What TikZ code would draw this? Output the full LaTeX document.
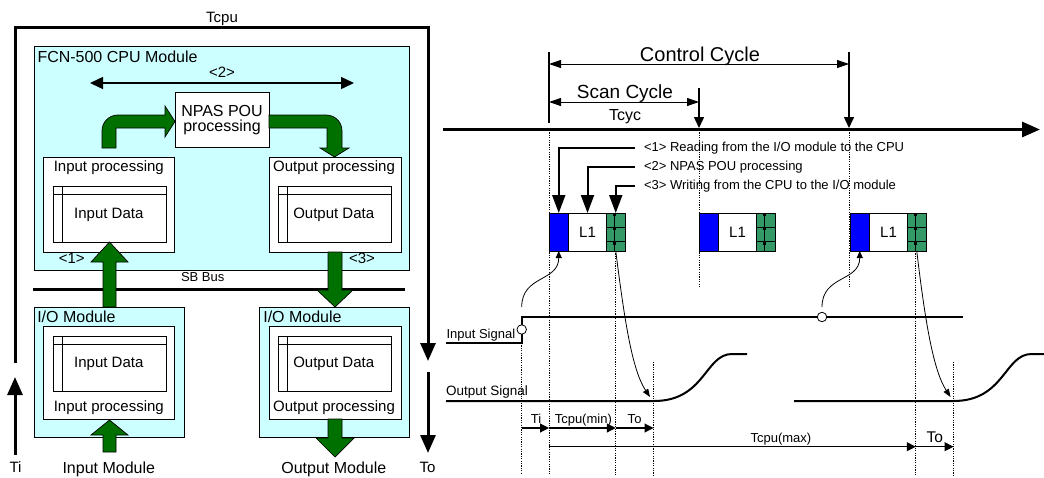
\documentclass[tikz,border=0pt]{standalone}
\usepackage{fontspec}
\setmainfont{Liberation Sans}
\usetikzlibrary{arrows.meta,calc}
\definecolor{lcyan}{HTML}{CCFFFF}
\definecolor{darkg}{HTML}{007000}
\definecolor{seag}{HTML}{339966}
\newcommand{\fsz}[1]{\fontsize{#1}{#1}\selectfont}
\tikzset{
  every node/.style={inner sep=0pt, outer sep=0pt},
  sz/.style 2 args={minimum width=#1pt, minimum height=#2pt},
  fs/.style={font=\fsz{#1}},
  cyanbox/.style={draw=black, fill=lcyan, line width=0.7pt, anchor=north west},
  whitebox/.style={draw=black, fill=white, line width=0.7pt, anchor=north west},
  tbl/.style={draw=black, line width=0.7pt, anchor=north west},
  garrow/.style={draw=black, fill=darkg, line width=0.7pt, line join=miter},
  heavy/.style={line width=3pt},
  bigtip/.style={-{Triangle[length=18pt,width=15pt]}},
  dotl/.style={dash pattern=on 1.2pt off 1.2pt, line width=0.8pt},
  lblarrow/.style={line width=2pt, -{Triangle[length=18pt,width=13pt]}},
  dimarrow/.style={line width=1.1pt, -{Triangle[length=9pt,width=9pt]}},
  thinarrow/.style={line width=0.8pt, -{Triangle[length=8pt,width=6pt]}},
  sig/.style={line width=2pt},
}
\begin{document}
\begin{tikzpicture}[x=1pt,y=-1pt]
\useasboundingbox (0,0) rectangle (1044,477);

% ================= LEFT =================
% outer Tcpu loop
\coordinate (loopA) at (15,363);
\coordinate (loopB) at (428,27.5);
\coordinate (loopC) at (428,361);
\draw[heavy, bigtip] (loopA) |- (loopB) -- (loopC);
\coordinate (tiA) at (15,455);
\coordinate (tiB) at (15,377);
\draw[heavy, bigtip] (tiA) -- (tiB);
\coordinate (toA) at (428,372);
\coordinate (toB) at (428,453);
\draw[heavy, bigtip] (toA) -- (toB);
\node[fs=15, anchor=base] (tcpu) at (222,22.5) {Tcpu};
\node[fs=15, anchor=base] (ti) at (15.5,472.5) {Ti};
\node[fs=15, anchor=base] (to) at (427.5,472.5) {To};

% CPU module
\node[cyanbox, sz={375}{224}] (cpu) at (34,46) {};
\node[fs=16, anchor=base west] (cpulbl) at (37.5,62.5) {FCN-500 CPU Module};
\node[fs=15, anchor=base] (two) at (222,77.5) {<2>};
\coordinate (dL) at (90,83);
\coordinate (dR) at (354,83);
\draw[line width=1.5pt, {Triangle[length=13pt,width=12pt]}-{Triangle[length=13pt,width=12pt]}] (dL) -- (dR);
\node[whitebox, sz={94}{55}] (npas) at (175,92) {};
\node[fs=16, anchor=base] (npast1) at (222,116.7) {NPAS POU};
\node[fs=16, anchor=base] (npast2) at (222,131.5) {processing};

\node[whitebox, sz={131}{95}] (inproc) at (43,157) {};
\node[tbl, sz={113}{56}] (intbl) at (53,186) {};
\node[whitebox, sz={132}{95}] (outproc) at (269,157) {};
\node[tbl, sz={113}{56}] (outtbl) at (278,186) {};
\node[fs=15, anchor=base] (inproct) at (108.8,171.7) {Input processing};
\node[fs=15, anchor=base] (intblt) at (108.8,218.3) {Input Data};
\node[fs=15, anchor=base] (outproct) at (334,171.7) {Output processing};
\node[fs=15, anchor=base] (outtblt) at (333.7,218.3) {Output Data};
\node[fs=15, anchor=base] (one) at (71.7,263) {<1>};
\node[fs=15, anchor=base] (three) at (362,263) {<3>};

% SB bus
\node[fs=13, anchor=base] (sbt) at (202.7,281.7) {SB Bus};
\coordinate (sbL) at (33,289);
\coordinate (sbR) at (405,289);
\draw[line width=3pt] (sbL) -- (sbR);

% I/O modules
\node[cyanbox, sz={150}{130}] (iol) at (34,307) {};
\node[whitebox, sz={131}{93}] (iolin) at (43,326) {};
\node[tbl, sz={113}{55}] (ioltbl) at (53,336) {};
\node[cyanbox, sz={150}{130}] (ior) at (259,307) {};
\node[whitebox, sz={132}{93}] (iorin) at (269,326) {};
\node[tbl, sz={113}{55}] (iortbl) at (278,336) {};
\node[fs=16, anchor=base west] (iolt) at (37.3,322.7) {I/O Module};
\node[fs=16, anchor=base west] (iort) at (263.3,322.7) {I/O Module};
\node[fs=15, anchor=base] (ioldt) at (108.8,367.3) {Input Data};
\node[fs=15, anchor=base] (iolpt) at (108.8,411.7) {Input processing};
\node[fs=15, anchor=base] (iordt) at (333.7,367.3) {Output Data};
\node[fs=15, anchor=base] (iorpt) at (334,411.7) {Output processing};
\node[fs=16, anchor=base] (inmod) at (108.8,473.5) {Input Module};
\node[fs=16, anchor=base] (outmod) at (333.8,473.5) {Output Module};

\foreach \t in {intbl,outtbl,ioltbl,iortbl}{
  \draw[line width=0.7pt] ($(\t.north west)+(0,8)$) -- ($(\t.north east)+(0,8)$);
  \draw[line width=0.7pt] ($(\t.north west)+(9,0)$) -- ($(\t.south west)+(9,0)$);
}

% green block arrows
\draw[garrow] (102,148) -- (102,131) .. controls (102,122) and (109,115) .. (118,115)
  -- (165,115) -- (165,106) -- (175,121.5) -- (165,137) -- (165,128) -- (116,128) -- (116,148) -- cycle;
\draw[garrow] (269,115) -- (326,115) .. controls (335,115) and (342,122) .. (342,131)
  -- (342,148) -- (349,148) -- (334.5,157) -- (320,148) -- (327,148) -- (327,128) -- (269,128) -- cycle;
\draw[garrow] (103,307) -- (103,262) -- (91,262) -- (109.5,242) -- (128,262) -- (116,262) -- (116,307) -- cycle;
\draw[garrow] (328,252) -- (328,290) -- (317,290) -- (335,307) -- (353,290) -- (342,290) -- (342,252) -- cycle;
\draw[garrow] (103,452) -- (103,435) -- (91,435) -- (109.5,420) -- (128,435) -- (116,435) -- (116,452) -- cycle;
\draw[garrow] (328,419) -- (328,438) -- (316,438) -- (335,457) -- (354,438) -- (342,438) -- (342,419) -- cycle;

% ================= RIGHT =================
% dotted guides
\draw[dotl] (549,130) -- (549,475);
\draw[dotl] (699,130) -- (699,287);
\draw[dotl] (849,130) -- (849,287);
\draw[dotl] (521.7,343) -- (521.7,473);
\draw[dotl] (615.75,251) -- (615.75,475);
\draw[dotl] (653.5,362) -- (653.5,475);
\draw[dotl] (915.75,251) -- (915.75,475);
\draw[dotl] (953.5,362) -- (953.5,475);

% time axis
\coordinate (axL) at (443,129.5);
\coordinate (axR) at (1040,129.5);
\draw[heavy, bigtip] (axL) -- (axR);

% control / scan cycle
\coordinate (cc1t) at (549,52);  \coordinate (cc1b) at (549,123);
\coordinate (cc2t) at (849,52);  \coordinate (cc2b) at (849,128);
\coordinate (sc2t) at (699,88);  \coordinate (sc2b) at (699,128);
\draw[line width=1.5pt] (cc1t) -- (cc1b);
\draw[line width=1.5pt, -{Triangle[length=11pt,width=10pt]}] (cc2t) -- (cc2b);
\draw[line width=1.5pt, -{Triangle[length=11pt,width=10pt]}] (sc2t) -- (sc2b);
\coordinate (ccaL) at (549,64);  \coordinate (ccaR) at (849,64);
\coordinate (scaL) at (549,102); \coordinate (scaR) at (699,102);
\draw[line width=1pt, {Triangle[length=12pt,width=8pt]}-{Triangle[length=12pt,width=8pt]}] (ccaL) -- (ccaR);
\draw[line width=1pt, {Triangle[length=12pt,width=8pt]}-{Triangle[length=12pt,width=8pt]}] (scaL) -- (scaR);
\node[fs=20, anchor=base] (cct) at (700,61.5) {Control Cycle};
\node[fs=19, anchor=base] (sct) at (625,98.3) {Scan Cycle};
\node[fs=16, anchor=base] (tcyc) at (625,120) {Tcyc};

% processing blocks
\foreach \n/\x in {1/549, 2/699, 3/850}{
  \node[draw=black, fill=blue, line width=0.7pt, anchor=north west, sz={19.5}{38}] (blue\n) at (\x,213) {};
  \node[draw=black, fill=white, line width=0.7pt, anchor=north west, sz={38}{38}, fs=15] (white\n) at (\x+19.5,213) {L1};
  \node[draw=black, fill=seag, line width=0.7pt, anchor=north west, sz={18.5}{38}] (green\n) at (\x+57.5,213) {};
  \draw[line width=0.6pt] ($(green\n.north west)+(8,0)$) -- ($(green\n.south west)+(8,0)$);
  \draw[line width=0.6pt] ($(green\n.north west)+(0,14)$) -- ($(green\n.north east)+(0,14)$);
  \draw[line width=0.6pt] ($(green\n.north west)+(0,28)$) -- ($(green\n.north east)+(0,28)$);
  \foreach \yy in {1.5,15.5,30.5}{
    \fill[black] ($(green\n.north west)+(8,\yy)+(-1.4,-1.4)$) rectangle ++(2.8,2.8);
  }
}

% legend labels
\node[fs=13, anchor=base west] (lbl1) at (644,151.7) {<1> Reading from the I/O module to the CPU};
\node[fs=13, anchor=base west] (lbl2) at (644,170.7) {<2> NPAS POU processing};
\node[fs=13, anchor=base west] (lbl3) at (644,189.3) {<3> Writing from the CPU to the I/O module};
\draw[lblarrow] ([xshift=-9pt]lbl1.west) -| (blue1.north);
\draw[lblarrow] ([xshift=-9pt]lbl2.west) -| (white1.north);
\draw[lblarrow] ([xshift=-9pt]lbl3.west) -| (green1.north);

% input signal
\coordinate (inS) at (446,343);
\coordinate (inStep) at (521.7,343);
\coordinate (inHigh) at (521.7,317);
\coordinate (inE) at (963,317);
\draw[sig] (inS) -- (inStep) -- (inHigh) -- (inE);
\node[draw=black, fill=white, line width=0.8pt, circle, minimum size=9.5pt] (c1) at (521.7,329.5) {};
\node[draw=black, fill=white, line width=0.8pt, circle, minimum size=9.5pt] (c2) at (822,317) {};
\node[fs=13, anchor=base west] (inSigt) at (446.5,338.3) {Input Signal};
\coordinate (cur1) at (521.7,307);
\coordinate (cur2) at (822,307);
\draw[line width=0.8pt, -{Triangle[length=7pt,width=6pt]}] (cur1) .. controls (521.7,275) and (558.75,282) .. (blue1.south);
\draw[line width=0.8pt, -{Triangle[length=7pt,width=6pt]}] (cur2) .. controls (822,275) and (859.75,282) .. (blue3.south);

% output signal
\coordinate (o1s) at (446,401);
\coordinate (o1r) at (654,401);
\coordinate (o1t) at (732,354);
\coordinate (o1e) at (747,354);
\draw[sig] (o1s) -- (o1r) .. controls (705,401) and (705,354) .. (o1t) -- (o1e);
\coordinate (o2s) at (794,401);
\coordinate (o2r) at (953.5,401);
\coordinate (o2t) at (1031.5,354);
\coordinate (o2e) at (1044,354);
\draw[sig] (o2s) -- (o2r) .. controls (1004.5,401) and (1004.5,354) .. (o2t) -- (o2e);
\node[fs=13.5, anchor=base west] (outSigt) at (446,395) {Output Signal};
\coordinate (oa1) at (650,397);
\coordinate (oa2) at (950.5,397);
\draw[thinarrow] (green1.south) .. controls (624.5,320) and (632,370) .. (oa1);
\draw[thinarrow] (green3.south) .. controls (925,320) and (933,370) .. (oa2);

% timing dimensions
\coordinate (d1) at (521.7,428);
\coordinate (d2) at (549,428);
\coordinate (d3) at (615.75,428);
\coordinate (d4) at (653.5,428);
\coordinate (e1) at (549,446.7);
\coordinate (e2) at (915.75,446.7);
\coordinate (e3) at (953.5,446.7);
\draw[dimarrow] (d1) -- (d2);
\draw[dimarrow] (d2) -- (d3);
\draw[dimarrow] (d3) -- (d4);
\draw[dimarrow] (e1) -- (e2);
\draw[dimarrow] (e2) -- (e3);
\node[fs=13, anchor=base] (tit) at (536,423.3) {Ti};
\node[fs=13, anchor=base] (tmint) at (583.3,423.3) {Tcpu(min)};
\node[fs=13, anchor=base] (to1t) at (634.6,423.3) {To};
\node[fs=13, anchor=base] (tmaxt) at (780.9,442.3) {Tcpu(max)};
\node[fs=15.5, anchor=base] (to2t) at (934.8,442.3) {To};
\end{tikzpicture}
\end{document}
